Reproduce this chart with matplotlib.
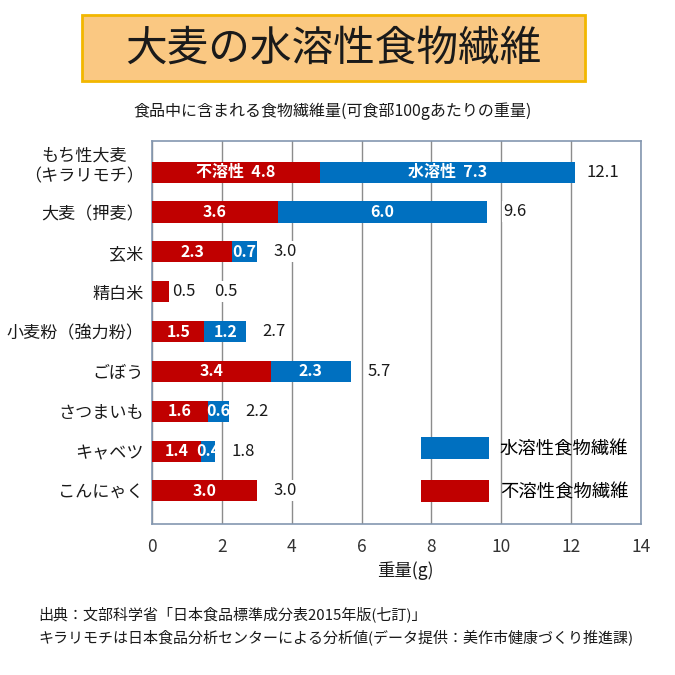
import matplotlib
matplotlib.use('Agg')
import matplotlib.pyplot as plt
from matplotlib.patches import Rectangle, Patch
from matplotlib.transforms import ScaledTranslation
import numpy as np

plt.rcParams['font.family'] = ['Noto Sans CJK JP', 'DejaVu Sans']

# データ(可食部100gあたり, g)
categories = ['もち性大麦\n（キラリモチ）', '大麦（押麦）', '玄米', '精白米', '小麦粉（強力粉）',
              'ごぼう', 'さつまいも', 'キャベツ', 'こんにゃく']
insoluble = [4.8, 3.6, 2.3, 0.5, 1.5, 3.4, 1.6, 1.4, 3.0]
soluble = [7.3, 6.0, 0.7, 0.0, 1.2, 2.3, 0.6, 0.4, 0.0]
totals = [12.1, 9.6, 3.0, 0.5, 2.7, 5.7, 2.2, 1.8, 3.0]
xticks = [0, 2, 4, 6, 8, 10, 12, 14]

RED = '#C00000'
BLUE = '#0070C0'

fig = plt.figure(figsize=(6.75, 6.75), dpi=100)
W = H = 675.0

def fx(px):
    return px / W

def fy(py):
    return 1 - py / H

# タイトルの箱
fig.patches.append(Rectangle((fx(82), fy(81)), fx(585) - fx(82), fy(15) - fy(81),
                             transform=fig.transFigure, facecolor='#FAC882',
                             edgecolor='#F2B700', linewidth=2, zorder=0))
fig.text(fx(333), fy(49), '大麦の水溶性食物繊維', fontsize=30, ha='center', va='center',
         color='#1a1a1a')
fig.text(fx(333), fy(111), '食品中に含まれる食物繊維量(可食部100gあたりの重量)', fontsize=11.5,
         ha='center', va='center', color='#1a1a1a')

ax = fig.add_axes([fx(152), fy(524), fx(641) - fx(152), fy(141) - fy(524)])

y = np.arange(len(categories))
bh = 0.53
ax.barh(y, insoluble, height=bh, color=RED, zorder=3)
ax.barh(y, soluble, left=insoluble, height=bh, color=BLUE, zorder=3)

# 棒の中の数値
for i in range(len(categories)):
    ins = insoluble[i]
    sol = soluble[i]
    if i == 0:
        ins_txt = '不溶性  %.1f' % ins
        sol_txt = '水溶性  %.1f' % sol
    else:
        ins_txt = '%.1f' % ins
        sol_txt = '%.1f' % sol
    if ins >= 1.0:
        ax.text(ins / 2, y[i], ins_txt, ha='center', va='center', color='white',
                fontsize=11.5, fontweight='bold', zorder=5)
    else:
        ax.text(ins + 0.4, y[i], ins_txt, ha='center', va='center', color='#1a1a1a',
                fontsize=12, zorder=5)
    if sol > 0:
        ax.text(ins + sol / 2, y[i], sol_txt, ha='center', va='center', color='white',
                fontsize=11.5, fontweight='bold', zorder=5)
    off = 0.8 if insoluble[i] >= 1.0 else 1.6
    ax.text(totals[i] + off, y[i], '%.1f' % totals[i], ha='center', va='center',
            color='#1a1a1a', fontsize=12, zorder=4,
            bbox=dict(facecolor='white', edgecolor='none', pad=1.5))

ax.set_xlim(0, 14)
ax.set_ylim(8.83, -0.78)
ax.set_xticks(xticks)
ax.set_xticklabels([str(t) for t in xticks], fontsize=12.5, color='#333333')
ax.set_yticks(y)
ax.set_yticklabels(categories, fontsize=12.3, color='#1a1a1a', multialignment='center')
ax.tick_params(axis='both', length=0)
ax.tick_params(axis='x', pad=10)
ax.tick_params(axis='y', pad=6)
ax.grid(axis='x', color='#8c8c8c', linewidth=1, zorder=0)
ax.set_axisbelow(True)
for s in ax.spines.values():
    s.set_color('#8497B0')
    s.set_linewidth(1.2)

# 2行ラベルは上にずらす
lab0 = ax.get_yticklabels()[0]
lab0.set_transform(lab0.get_transform() + ScaledTranslation(0, 10 / 100.0, fig.dpi_scale_trans))

fig.text(fx(405), fy(571), '重量(g)', fontsize=12.5, ha='center', va='center', color='#1a1a1a')

handles = [Patch(facecolor=BLUE, edgecolor='none', label='水溶性食物繊維'),
           Patch(facecolor=RED, edgecolor='none', label='不溶性食物繊維')]
ax.legend(handles=handles, loc='upper left', bbox_to_anchor=((421 - 152) / 489.0, (524 - 437) / 383.0),
          frameon=False, fontsize=13.2, handlelength=3.7, handleheight=1.47,
          handletextpad=0.6, labelspacing=1.15, borderpad=0, borderaxespad=0)

fig.text(fx(38), fy(614), '出典：文部科学省「日本食品標準成分表2015年版(七訂)」', fontsize=10.8,
         ha='left', va='center', color='#1a1a1a')
fig.text(fx(38), fy(637), 'キラリモチは日本食品分析センターによる分析値(データ提供：美作市健康づくり推進課)',
         fontsize=10.8, ha='left', va='center', color='#1a1a1a')

fig.savefig('out.png', dpi=100, facecolor='white')
